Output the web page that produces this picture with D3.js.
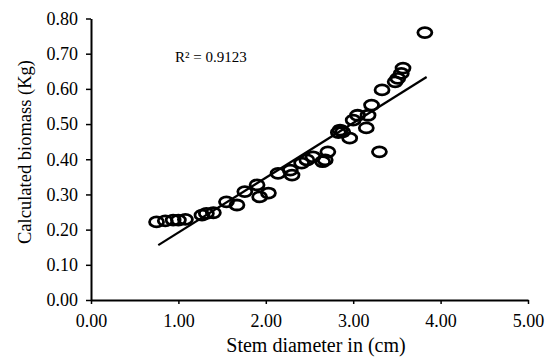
<!DOCTYPE html>
<html><head><meta charset="utf-8">
<script src="https://cdn.jsdelivr.net/npm/d3@7"></script>
<style>body{margin:0;background:#fff}svg{display:block}text{font-family:"Liberation Serif","Times New Roman",serif;fill:#000}</style>
</head><body>
<script>
const stemDiameter = [0.75,0.85,0.94,1.00,1.08,1.27,1.32,1.40,1.55,1.67,1.76,1.90,1.93,2.03,2.14,2.28,2.30,2.41,2.47,2.54,2.65,2.68,2.71,2.83,2.85,2.88,2.96,3.00,3.05,3.15,3.17,3.21,3.30,3.33,3.48,3.51,3.55,3.57,3.82];
const biomass = [0.222,0.225,0.227,0.227,0.229,0.241,0.246,0.248,0.279,0.270,0.308,0.327,0.293,0.304,0.360,0.369,0.355,0.389,0.398,0.407,0.393,0.398,0.421,0.476,0.483,0.478,0.460,0.511,0.525,0.489,0.525,0.554,0.421,0.597,0.620,0.630,0.644,0.659,0.760];
const trendRange = [0.77, 3.84];
const trendSlope = 0.1557, trendIntercept = 0.036;
const xTicks = [0,1,2,3,4,5];
const yTicks = [0,0.1,0.2,0.3,0.4,0.5,0.6,0.7,0.8];
const xTitle = "Stem diameter in (cm)";
const yTitle = "Calculated biomass (Kg)";
const r2Label = "R² = 0.9123";

const W=552,H=358;
const svg=d3.select("body").append("svg").attr("width",W).attr("height",H);
const x=d3.scaleLinear().domain([0,5]).range([91,528]);
const y=d3.scaleLinear().domain([0,0.8]).range([300,18.5]);

const xa=svg.append("g").attr("transform","translate(0,300)")
  .call(d3.axisBottom(x).tickValues(xTicks).tickFormat(d3.format(".2f")).tickSize(4).tickSizeOuter(0));
const ya=svg.append("g").attr("transform","translate(91,0)")
  .call(d3.axisLeft(y).tickValues(yTicks).tickFormat(d3.format(".2f")).tickSize(5).tickSizeOuter(0));
[xa,ya].forEach(a=>{a.select(".domain").attr("stroke","#000").attr("stroke-width",2);
  a.selectAll(".tick line").attr("stroke","#000").attr("stroke-width",1.5);
  a.selectAll(".tick text").attr("font-size",18).style("font-family","Liberation Serif");});
xa.selectAll(".tick text").attr("dy",null).attr("y",27);
ya.selectAll(".tick text").attr("x",-13);

svg.append("text").attr("x",316).attr("y",352).attr("text-anchor","middle").attr("font-size",20).text(xTitle);
svg.append("text").attr("transform","translate(31,152) rotate(-90)").attr("text-anchor","middle").attr("font-size",18.5).text(yTitle);
svg.append("text").attr("x",175).attr("y",62).attr("font-size",15).text(r2Label);

svg.append("line").attr("x1",x(trendRange[0])).attr("y1",y(trendSlope*trendRange[0]+trendIntercept))
  .attr("x2",x(trendRange[1])).attr("y2",y(trendSlope*trendRange[1]+trendIntercept))
  .attr("stroke","#000").attr("stroke-width",2.2);

svg.append("g").selectAll("ellipse").data(stemDiameter).join("ellipse")
  .attr("cx",d=>x(d)).attr("cy",(d,i)=>y(biomass[i])).attr("rx",7).attr("ry",5)
  .attr("fill","none").attr("stroke","#000").attr("stroke-width",2.8);
</script>
</body></html>
